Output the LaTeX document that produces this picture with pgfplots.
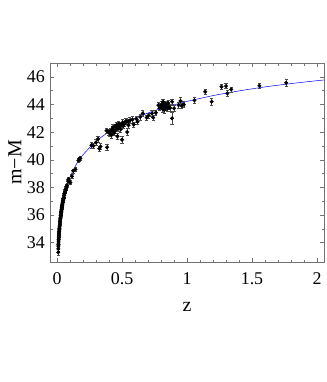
\documentclass[border=0pt]{standalone}
\usepackage{fontspec}
\setmainfont{Liberation Serif}
\usepackage{pgfplots}
\usepackage{pgfplotstable}
\pgfplotsset{compat=1.18}

% supernovae: redshift, distance modulus, error
\pgfplotstableread{
z mu err
0.0095 33.30 0.20
0.010 33.55 0.15
0.0105 33.75 0.15
0.011 33.90 0.15
0.0115 33.85 0.15
0.012 34.05 0.15
0.0125 34.20 0.15
0.013 34.25 0.15
0.0135 34.40 0.15
0.014 34.35 0.15
0.0145 34.50 0.15
0.015 34.60 0.15
0.016 34.70 0.15
0.0165 34.80 0.15
0.017 34.85 0.15
0.018 34.95 0.15
0.0185 35.05 0.15
0.019 35.00 0.15
0.020 35.15 0.15
0.021 35.25 0.15
0.022 35.35 0.15
0.023 35.50 0.15
0.024 35.55 0.15
0.025 35.65 0.15
0.026 35.75 0.15
0.027 35.80 0.15
0.028 35.95 0.15
0.029 35.95 0.15
0.030 36.05 0.15
0.031 36.15 0.15
0.032 36.20 0.15
0.033 36.25 0.15
0.034 36.35 0.15
0.035 36.40 0.15
0.036 36.50 0.15
0.037 36.55 0.15
0.038 36.60 0.15
0.039 36.65 0.15
0.040 36.70 0.15
0.042 36.80 0.15
0.043 36.90 0.15
0.045 36.95 0.15
0.046 37.05 0.15
0.048 37.10 0.15
0.050 37.20 0.15
0.052 37.25 0.15
0.054 37.40 0.15
0.056 37.45 0.15
0.058 37.55 0.15
0.060 37.60 0.15
0.062 37.70 0.15
0.064 37.75 0.15
0.066 37.80 0.15
0.068 37.90 0.15
0.070 37.95 0.15
0.074 38.05 0.15
0.078 38.15 0.15
0.085 38.45 0.15
0.090 38.60 0.15
0.103 38.35 0.15
0.115 38.80 0.15
0.125 39.20 0.15
0.142 39.30 0.15
0.165 39.95 0.15
0.172 40.05 0.15
0.180 40.10 0.15
0.265 41.05 0.20
0.280 41.00 0.20
0.300 41.25 0.20
0.315 41.50 0.20
0.325 40.80 0.20
0.335 40.95 0.22
0.380 42.10 0.20
0.385 40.90 0.20
0.390 42.05 0.15
0.400 42.00 0.20
0.405 41.90 0.18
0.415 42.10 0.20
0.420 41.80 0.25
0.425 42.20 0.20
0.430 42.35 0.20
0.435 42.05 0.20
0.440 41.95 0.20
0.445 42.40 0.20
0.450 42.15 0.22
0.455 42.50 0.20
0.460 42.25 0.20
0.465 41.70 0.25
0.470 42.30 0.20
0.475 42.60 0.20
0.480 42.40 0.20
0.490 42.20 0.22
0.495 42.55 0.20
0.500 41.45 0.25
0.505 42.70 0.20
0.510 42.45 0.20
0.520 42.60 0.20
0.530 42.80 0.22
0.540 42.00 0.25
0.545 42.75 0.20
0.550 42.50 0.20
0.560 42.85 0.20
0.580 42.90 0.22
0.590 42.55 0.20
0.610 42.95 0.20
0.620 42.75 0.20
0.640 43.10 0.22
0.660 43.35 0.20
0.690 43.05 0.20
0.705 43.20 0.20
0.730 43.35 0.20
0.740 43.05 0.20
0.760 43.40 0.20
0.780 43.95 0.20
0.790 43.75 0.20
0.800 43.85 0.22
0.805 44.00 0.20
0.810 43.70 0.25
0.815 44.20 0.20
0.820 43.90 0.20
0.825 43.60 0.25
0.830 44.05 0.20
0.835 43.80 0.22
0.840 43.95 0.25
0.850 43.70 0.20
0.855 44.10 0.20
0.860 43.85 0.20
0.870 43.75 0.22
0.885 44.20 0.20
0.885 43.00 0.45
0.900 43.72 0.20
0.935 43.95 0.20
0.950 44.25 0.25
0.960 43.90 0.20
0.975 44.00 0.20
1.057 44.30 0.20
1.140 44.92 0.20
1.190 44.20 0.25
1.265 45.28 0.18
1.300 45.33 0.18
1.310 44.80 0.20
1.340 45.09 0.18
1.557 45.35 0.18
1.763 45.57 0.25
}\sndata

\begin{document}
\begin{tikzpicture}
\useasboundingbox (-50bp,-120bp) rectangle (277bp,262bp);
\begin{axis}[
    at={(0,0)}, anchor=south west,
    scale only axis,
    width=274bp, height=199bp,
    xmin=-0.054, xmax=2.054,
    ymin=32.6, ymax=47,
    xtick={0,0.5,1,1.5,2},
    xticklabels={0,0.5,1,1.5,2},
    ytick={34,36,...,46},
    minor x tick num=4,
    minor y tick num=1,
    tick align=inside,
    major tick length=4bp,
    minor tick length=2.5bp,
    axis line style={black!55, line width=0.5pt},
    every tick/.style={black!55, line width=0.4pt},
    ticklabel style={font=\fontsize{18}{20}\selectfont, inner sep=0pt},
    xticklabel style={yshift=-10bp},
    yticklabel style={xshift=-5bp},
    /pgf/number format/assume math mode=true,
    xlabel={z},
    ylabel={m−M},
    label style={font=\fontsize{20}{22}\selectfont},
    xlabel style={at={(axis description cs:0.5,-0.226)}, anchor=center},
    ylabel style={at={(axis description cs:-0.128,0.5)}, anchor=center},
]
\addplot[blue, line width=0.5pt, smooth] coordinates {
(0.008,33.17) (0.01,33.66) (0.012,34.06) (0.015,34.53) (0.02,35.17)
(0.03,36.06) (0.04,36.71) (0.05,37.20) (0.07,37.95) (0.1,38.76)
(0.15,39.69) (0.2,40.36) (0.3,41.33) (0.4,42.02) (0.5,42.56)
(0.6,43.00) (0.7,43.38) (0.8,43.70) (0.9,43.97) (1.0,44.22)
(1.2,44.64) (1.4,44.98) (1.6,45.27) (1.8,45.51) (2.0,45.72) (2.1,45.81)
};
\addplot[only marks, mark=*, mark size=1.8pt, black,
    error bars/.cd, y dir=both, y explicit,
    error bar style={black!70, line width=0.45pt},
    error mark options={rotate=90, mark size=1.6pt, black!70}]
    table[x=z, y=mu, y error=err] {\sndata};
\end{axis}
\end{tikzpicture}
\end{document}
